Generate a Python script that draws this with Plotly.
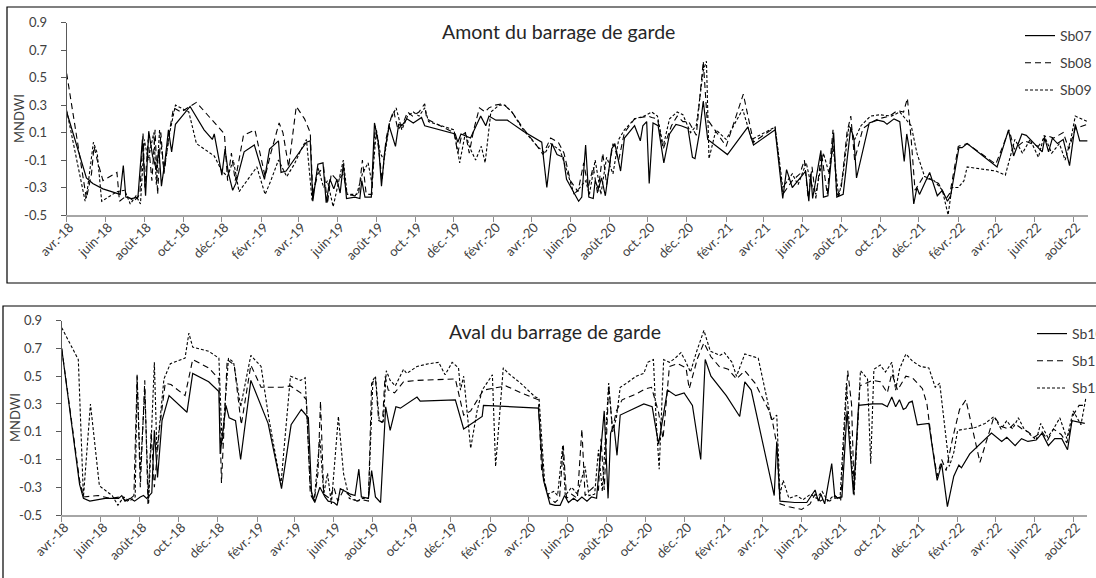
import plotly.graph_objects as go

# ---------------- axis ticks ----------------
tick_dates = ["2018-04-01", "2018-06-01", "2018-08-01", "2018-10-01", "2018-12-01",
              "2019-02-01", "2019-04-01", "2019-06-01", "2019-08-01", "2019-10-01", "2019-12-01",
              "2020-02-01", "2020-04-01", "2020-06-01", "2020-08-01", "2020-10-01", "2020-12-01",
              "2021-02-01", "2021-04-01", "2021-06-01", "2021-08-01", "2021-10-01", "2021-12-01",
              "2022-02-01", "2022-04-01", "2022-06-01", "2022-08-01"]
tick_labels = ["avr.-18", "juin-18", "août-18", "oct.-18", "déc.-18",
               "févr.-19", "avr.-19", "juin-19", "août-19", "oct.-19", "déc.-19",
               "févr.-20", "avr.-20", "juin-20", "août-20", "oct.-20", "déc.-20",
               "févr.-21", "avr.-21", "juin-21", "août-21", "oct.-21", "déc.-21",
               "févr.-22", "avr.-22", "juin-22", "août-22"]
y_ticks = [-0.5, -0.3, -0.1, 0.1, 0.3, 0.5, 0.7, 0.9]
y_labels = ["-0.5", "-0.3", "-0.1", "0.1", "0.3", "0.5", "0.7", "0.9"]

# ---------------- Amont (top) ----------------
sb07_dates = ["2018-04-01", "2018-05-02", "2018-05-12", "2018-05-28", "2018-06-24", "2018-06-29", "2018-07-03",
              "2018-07-12", "2018-07-22", "2018-07-29", "2018-08-03", "2018-08-08", "2018-08-14", "2018-08-20",
              "2018-08-24", "2018-08-28", "2018-09-03", "2018-09-08", "2018-09-13", "2018-09-19", "2018-10-12",
              "2018-11-03", "2018-11-16", "2018-11-19", "2018-12-01", "2018-12-06", "2018-12-11", "2018-12-18",
              "2018-12-23", "2019-01-05", "2019-01-21", "2019-02-06", "2019-02-14", "2019-02-28", "2019-03-04",
              "2019-03-12", "2019-04-13", "2019-04-19", "2019-04-23", "2019-05-01", "2019-05-09", "2019-05-14",
              "2019-05-20", "2019-05-26", "2019-05-31", "2019-06-05", "2019-06-10", "2019-06-15", "2019-06-28",
              "2019-07-06", "2019-07-09", "2019-07-14", "2019-07-24", "2019-07-29", "2019-08-04", "2019-08-09",
              "2019-08-14", "2019-08-21", "2019-08-31", "2019-09-05", "2019-09-10", "2019-09-18", "2019-09-28",
              "2019-10-11", "2019-10-16", "2019-12-03", "2019-12-07", "2019-12-12", "2019-12-27", "2020-01-12",
              "2020-01-20", "2020-01-25", "2020-02-05", "2020-02-23", "2020-03-19", "2020-04-17", "2020-04-25",
              "2020-05-03", "2020-05-11", "2020-05-21", "2020-05-26", "2020-06-04", "2020-06-14", "2020-06-19",
              "2020-06-25", "2020-06-30", "2020-07-07", "2020-07-10", "2020-07-15", "2020-07-20", "2020-07-26",
              "2020-08-05", "2020-08-10", "2020-08-19", "2020-08-25", "2020-09-10", "2020-09-19", "2020-09-23",
              "2020-09-29", "2020-10-03", "2020-10-09", "2020-10-17", "2020-10-26", "2020-11-04", "2020-11-14",
              "2020-11-22", "2020-12-03", "2020-12-10", "2020-12-14", "2020-12-21", "2020-12-27", "2021-01-03",
              "2021-02-03", "2021-03-07", "2021-03-16", "2021-04-19", "2021-05-01", "2021-05-07", "2021-05-16",
              "2021-06-06", "2021-06-11", "2021-06-14", "2021-06-17", "2021-06-30", "2021-07-04", "2021-07-11",
              "2021-07-20", "2021-07-25", "2021-08-04", "2021-08-16", "2021-08-21", "2021-08-25", "2021-09-14",
              "2021-09-27", "2021-10-07", "2021-10-12", "2021-10-23", "2021-11-01", "2021-11-08", "2021-11-12",
              "2021-11-16", "2021-11-23", "2021-11-28", "2021-12-02", "2021-12-18", "2021-12-30", "2022-01-07",
              "2022-01-15", "2022-01-20", "2022-02-02", "2022-02-07", "2022-02-15", "2022-04-03", "2022-04-21",
              "2022-04-29", "2022-05-12", "2022-05-19", "2022-06-13", "2022-06-17", "2022-06-23", "2022-06-29",
              "2022-07-07", "2022-07-16", "2022-07-26", "2022-08-04", "2022-08-11", "2022-08-23"]
sb07 = [0.25, -0.23, -0.27, -0.31, -0.35, -0.14, -0.37,
        -0.38, -0.37, 0.05, -0.36, 0.11, -0.07, -0.17,
        -0.02, -0.29, -0.09, 0.12, -0.04, 0.16, 0.29,
        0.12, 0.05, 0.09, -0.21, -0.02, -0.19, -0.32,
        -0.27, -0.04, 0.01, -0.24, -0.02, 0.04, -0.19,
        -0.18, 0.03, 0.04, -0.40, -0.13, -0.12, -0.41,
        -0.24, -0.31, -0.24, -0.34, -0.13, -0.38, -0.37,
        -0.38, -0.25, -0.37, -0.37, 0.17, 0.03, -0.29,
        -0.04, 0.15, 0.00, 0.16, 0.15, 0.20, 0.17,
        0.21, 0.15, 0.09, 0.03, 0.09, 0.06, 0.22,
        0.15, 0.22, 0.19, 0.19, 0.11, 0.03, -0.30,
        0.02, -0.06, -0.08, -0.24, -0.32, -0.40, -0.37,
        0.01, -0.37, -0.38, -0.25, -0.31, -0.23, -0.36,
        -0.02, 0.02, -0.18, 0.06, 0.15, 0.04, 0.15,
        0.18, -0.27, 0.17, 0.15, -0.12, 0.09, 0.16,
        0.15, 0.13, -0.08, -0.09, 0.10, 0.33, 0.05,
        -0.06, 0.14, 0.01, 0.12, -0.38, -0.17, -0.30,
        -0.18, -0.40, -0.20, -0.38, -0.03, -0.37, -0.36,
        0.10, -0.37, -0.35, 0.14, 0.05, -0.23, 0.17,
        0.19, 0.18, 0.16, 0.20, 0.18, -0.11, 0.09,
        -0.02, -0.42, -0.30, -0.35, -0.19, -0.36, -0.32,
        -0.40, -0.36, -0.01, -0.01, 0.02, -0.15, 0.12,
        -0.07, 0.09, 0.08, -0.04, 0.06, -0.04, 0.06,
        0.02, 0.05, -0.14, 0.16, 0.04, 0.04]

sb08_dates = ["2018-04-01", "2018-05-02", "2018-05-10", "2018-05-14", "2018-05-19", "2018-05-28", "2018-06-19",
              "2018-06-23", "2018-07-04", "2018-07-16", "2018-07-25", "2018-07-30", "2018-08-02", "2018-08-07",
              "2018-08-13", "2018-08-18", "2018-08-22", "2018-08-27", "2018-09-01", "2018-09-10", "2018-09-16",
              "2018-09-28", "2018-10-22", "2018-12-05", "2018-12-10", "2018-12-16", "2018-12-22", "2019-01-04",
              "2019-01-22", "2019-02-07", "2019-02-16", "2019-03-01", "2019-03-07", "2019-03-16", "2019-03-28",
              "2019-04-10", "2019-04-19", "2019-04-23", "2019-05-01", "2019-05-10", "2019-05-16", "2019-05-22",
              "2019-06-01", "2019-06-10", "2019-06-16", "2019-06-28", "2019-07-04", "2019-07-10", "2019-07-16",
              "2019-07-25", "2019-07-30", "2019-08-04", "2019-08-10", "2019-08-16", "2019-08-22", "2019-08-28",
              "2019-09-04", "2019-09-13", "2019-09-19", "2019-09-27", "2019-10-07", "2019-10-16", "2019-10-19",
              "2019-12-01", "2019-12-07", "2019-12-13", "2019-12-19", "2019-12-25", "2020-01-01", "2020-01-10",
              "2020-01-19", "2020-01-25", "2020-02-04", "2020-02-16", "2020-03-01", "2020-03-19", "2020-04-10",
              "2020-04-19", "2020-05-01", "2020-05-13", "2020-05-22", "2020-06-01", "2020-06-13", "2020-06-22",
              "2020-06-29", "2020-07-07", "2020-07-14", "2020-07-22", "2020-07-28", "2020-08-07", "2020-08-16",
              "2020-08-25", "2020-09-10", "2020-09-22", "2020-10-01", "2020-10-07", "2020-10-16", "2020-10-25",
              "2020-11-07", "2020-11-16", "2020-11-25", "2020-12-04", "2020-12-16", "2020-12-27", "2021-01-02",
              "2021-02-01", "2021-02-28", "2021-03-16", "2021-04-19", "2021-05-01", "2021-05-16", "2021-05-28",
              "2021-06-04", "2021-06-10", "2021-06-16", "2021-06-22", "2021-07-01", "2021-07-10", "2021-07-19",
              "2021-07-25", "2021-08-01", "2021-08-10", "2021-08-16", "2021-08-22", "2021-09-04", "2021-09-16",
              "2021-09-28", "2021-10-16", "2021-10-28", "2021-11-07", "2021-11-13", "2021-11-19", "2021-11-25",
              "2021-12-07", "2021-12-19", "2022-01-01", "2022-01-13", "2022-01-19", "2022-02-01", "2022-02-15",
              "2022-04-01", "2022-04-22", "2022-04-30", "2022-05-16", "2022-06-07", "2022-06-19", "2022-07-01",
              "2022-07-16", "2022-07-25", "2022-08-04", "2022-08-23"]
sb08 = [0.53, -0.38, -0.20, 0.00, -0.10, -0.25, -0.19,
        -0.40, -0.36, -0.40, -0.35, 0.10, -0.30, 0.05,
        -0.25, 0.12, -0.35, 0.10, -0.20, 0.12, 0.28,
        0.25, 0.32, 0.09, -0.25, -0.05, -0.25, 0.08,
        0.12, -0.22, -0.05, 0.17, 0.10, -0.15, 0.29,
        0.20, 0.10, -0.35, -0.20, -0.15, -0.42, -0.20,
        -0.25, -0.20, -0.35, -0.36, -0.35, -0.10, -0.35,
        -0.35, 0.15, 0.00, -0.25, 0.05, 0.18, 0.26,
        0.12, 0.18, 0.25, 0.22, 0.25, 0.31, 0.20,
        0.10, -0.05, 0.08, 0.10, -0.05, 0.12, 0.28,
        0.25, 0.28, 0.30, 0.31, 0.25, 0.13, 0.00,
        -0.06, 0.06, 0.03, -0.05, -0.25, -0.33, -0.12,
        -0.30, -0.15, -0.35, -0.05, -0.28, 0.02, -0.10,
        0.10, 0.20, 0.21, 0.22, 0.21, 0.20, -0.02,
        0.15, 0.22, 0.18, 0.18, 0.08, 0.62, 0.20,
        0.00, 0.38, 0.03, 0.14, -0.35, -0.25, -0.20,
        -0.10, -0.38, -0.15, -0.38, -0.05, -0.35, 0.12,
        -0.36, -0.30, 0.10, 0.22, -0.10, 0.13, 0.17,
        0.20, 0.22, 0.26, 0.25, 0.35, 0.05, -0.32,
        -0.23, -0.24, -0.27, -0.38, -0.34, 0.00, 0.02,
        -0.13, 0.12, -0.02, 0.04, 0.00, 0.08, 0.06,
        0.10, -0.02, 0.13, 0.16]

sb09_dates = ["2018-04-01", "2018-04-30", "2018-05-04", "2018-05-13", "2018-05-19", "2018-05-26", "2018-06-19",
              "2018-07-01", "2018-07-10", "2018-07-19", "2018-07-26", "2018-08-01", "2018-08-07", "2018-08-16",
              "2018-08-20", "2018-08-25", "2018-09-01", "2018-09-10", "2018-09-19", "2018-10-10", "2018-10-22",
              "2018-11-19", "2018-12-01", "2018-12-10", "2018-12-19", "2018-12-28", "2019-01-25", "2019-02-07",
              "2019-02-16", "2019-02-28", "2019-03-13", "2019-03-25", "2019-04-04", "2019-04-13", "2019-04-22",
              "2019-05-01", "2019-05-10", "2019-05-16", "2019-05-25", "2019-06-01", "2019-06-10", "2019-06-16",
              "2019-07-01", "2019-07-10", "2019-07-19", "2019-07-25", "2019-08-01", "2019-08-07", "2019-08-13",
              "2019-08-22", "2019-09-01", "2019-09-10", "2019-09-19", "2019-09-28", "2019-10-07", "2019-10-16",
              "2019-10-22", "2019-12-01", "2019-12-10", "2019-12-19", "2019-12-25", "2020-01-04", "2020-01-13",
              "2020-01-19", "2020-01-28", "2020-02-10", "2020-02-19", "2020-03-01", "2020-03-19", "2020-04-10",
              "2020-04-22", "2020-05-01", "2020-05-16", "2020-05-28", "2020-06-07", "2020-06-16", "2020-06-25",
              "2020-07-01", "2020-07-10", "2020-07-19", "2020-07-28", "2020-08-07", "2020-08-16", "2020-08-25",
              "2020-09-10", "2020-09-25", "2020-10-07", "2020-10-16", "2020-10-25", "2020-11-04", "2020-11-16",
              "2020-11-25", "2020-12-07", "2020-12-16", "2020-12-27", "2021-01-01", "2021-01-05", "2021-01-16",
              "2021-02-01", "2021-02-27", "2021-03-13", "2021-04-19", "2021-05-01", "2021-05-16", "2021-05-25",
              "2021-06-07", "2021-06-13", "2021-06-22", "2021-07-04", "2021-07-13", "2021-07-19", "2021-07-28",
              "2021-08-04", "2021-08-13", "2021-08-22", "2021-09-01", "2021-09-16", "2021-10-01", "2021-10-19",
              "2021-11-01", "2021-11-10", "2021-11-19", "2021-11-28", "2021-12-10", "2021-12-25", "2022-01-07",
              "2022-01-16", "2022-01-22", "2022-02-01", "2022-02-10", "2022-02-15", "2022-04-01", "2022-04-16",
              "2022-04-25", "2022-05-01", "2022-05-13", "2022-05-25", "2022-06-07", "2022-06-16", "2022-06-28",
              "2022-07-10", "2022-07-19", "2022-07-28", "2022-08-04", "2022-08-23"]
sb09 = [0.26, -0.40, -0.30, 0.03, -0.05, -0.40, -0.33,
        -0.32, -0.42, -0.36, -0.42, 0.05, -0.10, 0.10,
        -0.28, 0.12, -0.18, 0.10, 0.30, 0.25, 0.02,
        -0.07, -0.18, -0.22, -0.10, -0.33, -0.15, -0.35,
        -0.25, -0.10, -0.22, -0.13, -0.03, 0.05, -0.40,
        -0.15, -0.30, -0.25, -0.44, -0.30, -0.10, -0.35,
        -0.35, -0.20, -0.12, -0.27, 0.12, -0.05, -0.10,
        0.18, 0.28, 0.12, 0.22, 0.25, 0.22, 0.28,
        0.18, 0.12, -0.12, 0.10, 0.00, -0.10, 0.00,
        -0.12, 0.25, 0.30, 0.30, 0.25, 0.12, 0.00,
        -0.05, 0.02, -0.03, -0.20, -0.35, -0.30, -0.25,
        -0.35, -0.10, -0.35, -0.08, -0.20, 0.05, 0.12,
        0.20, 0.22, 0.25, 0.22, 0.00, 0.20, 0.25,
        0.23, 0.10, 0.15, 0.55, 0.62, -0.09, 0.12,
        0.05, 0.27, 0.05, 0.14, -0.30, -0.20, -0.28,
        -0.12, -0.25, -0.35, -0.05, -0.20, 0.00, -0.37,
        -0.20, 0.15, 0.05, 0.15, 0.22, 0.23, 0.22,
        0.25, 0.20, 0.15, -0.05, -0.22, -0.25, -0.32,
        -0.50, -0.30, -0.30, -0.25, -0.15, -0.18, -0.21,
        -0.05, 0.05, -0.05, 0.05, -0.08, 0.08, -0.05,
        0.02, -0.10, 0.05, 0.22, 0.18]

# ---------------- Aval (bottom) ----------------
sb10_dates = ["2018-04-01", "2018-04-29", "2018-05-05", "2018-05-15", "2018-06-08", "2018-06-29", "2018-07-04",
              "2018-07-09", "2018-07-17", "2018-07-24", "2018-08-02", "2018-08-07", "2018-08-12", "2018-08-20",
              "2018-08-24", "2018-08-29", "2018-09-05", "2018-09-16", "2018-10-14", "2018-10-23", "2018-11-17",
              "2018-12-03", "2018-12-05", "2018-12-14", "2018-12-19", "2018-12-29", "2019-01-06", "2019-01-22",
              "2019-02-18", "2019-03-11", "2019-03-26", "2019-04-11", "2019-04-22", "2019-04-27", "2019-05-02",
              "2019-05-10", "2019-05-18", "2019-05-23", "2019-06-01", "2019-06-06", "2019-06-11", "2019-06-27",
              "2019-07-04", "2019-07-10", "2019-07-14", "2019-07-25", "2019-07-30", "2019-08-05", "2019-08-13",
              "2019-08-21", "2019-08-28", "2019-09-06", "2019-09-13", "2019-09-23", "2019-10-09", "2019-10-14",
              "2019-12-08", "2019-12-21", "2020-01-19", "2020-01-21", "2020-04-16", "2020-04-24", "2020-05-04",
              "2020-05-12", "2020-05-20", "2020-05-27", "2020-06-02", "2020-06-10", "2020-06-16", "2020-06-23",
              "2020-07-01", "2020-07-08", "2020-07-16", "2020-07-28", "2020-08-03", "2020-08-07", "2020-08-12",
              "2020-08-17", "2020-08-22", "2020-09-28", "2020-10-11", "2020-10-21", "2020-11-04", "2020-11-17",
              "2020-11-30", "2020-12-13", "2020-12-26", "2021-01-02", "2021-01-11", "2021-02-04", "2021-02-25",
              "2021-03-05", "2021-03-15", "2021-04-20", "2021-04-24", "2021-04-29", "2021-05-22", "2021-06-10",
              "2021-06-23", "2021-06-28", "2021-07-02", "2021-07-08", "2021-07-19", "2021-07-24", "2021-08-04",
              "2021-08-12", "2021-08-22", "2021-08-30", "2021-09-21", "2021-10-06", "2021-10-14", "2021-10-21",
              "2021-10-27", "2021-11-02", "2021-11-08", "2021-11-12", "2021-11-17", "2021-11-22", "2021-11-30",
              "2021-12-18", "2021-12-31", "2022-01-07", "2022-01-16", "2022-01-26", "2022-02-03", "2022-02-07",
              "2022-02-20", "2022-03-26", "2022-04-11", "2022-04-19", "2022-05-02", "2022-05-12", "2022-05-22",
              "2022-06-04", "2022-06-13", "2022-06-23", "2022-07-03", "2022-07-14", "2022-07-23", "2022-07-30",
              "2022-08-19"]
sb10 = [0.70, -0.28, -0.38, -0.40, -0.38, -0.38, -0.36,
        -0.40, -0.38, -0.40, -0.37, -0.36, -0.38, -0.34,
        0.11, -0.23, 0.18, 0.36, 0.24, 0.52, 0.46,
        0.39, -0.06, 0.29, 0.20, 0.18, -0.10, 0.47,
        0.16, -0.31, 0.15, 0.26, 0.20, -0.34, -0.41,
        -0.30, -0.37, -0.40, -0.41, -0.43, -0.31, -0.35,
        -0.36, -0.17, -0.37, -0.38, -0.18, -0.37, -0.41,
        0.28, 0.11, 0.28, 0.27, 0.30, 0.35, 0.32,
        0.33, 0.12, 0.21, 0.29, 0.27, -0.25, -0.42,
        -0.43, -0.43, -0.36, -0.41, -0.38, -0.40, -0.37,
        -0.40, -0.37, -0.38, 0.25, -0.38, 0.09, 0.15,
        -0.07, 0.22, 0.30, 0.28, 0.01, 0.40, 0.36,
        0.38, 0.29, -0.10, 0.62, 0.50, 0.36, 0.21,
        0.46, 0.40, -0.36, 0.03, -0.40, -0.41, -0.41,
        -0.32, -0.40, -0.35, -0.42, -0.13, -0.38, -0.37,
        0.25, -0.35, 0.29, 0.30, 0.30, 0.28, 0.35,
        0.28, 0.33, 0.26, 0.27, 0.31, 0.32, 0.15,
        0.16, -0.25, -0.13, -0.44, -0.22, -0.14, -0.16,
        -0.06, 0.09, 0.03, 0.06, 0.00, 0.05, 0.03,
        0.04, 0.09, 0.00, 0.05, 0.05, -0.03, 0.18,
        0.16]

sb11_dates = ["2018-04-01", "2018-04-29", "2018-05-05", "2018-05-28", "2018-06-16", "2018-07-01", "2018-07-13",
              "2018-07-23", "2018-07-28", "2018-08-02", "2018-08-09", "2018-08-14", "2018-08-19", "2018-08-24",
              "2018-09-01", "2018-09-10", "2018-09-19", "2018-10-11", "2018-10-23", "2018-11-17", "2018-12-03",
              "2018-12-07", "2018-12-16", "2018-12-27", "2019-01-07", "2019-01-22", "2019-02-07", "2019-03-12",
              "2019-03-25", "2019-04-10", "2019-04-19", "2019-04-25", "2019-05-01", "2019-05-07", "2019-05-11",
              "2019-05-16", "2019-05-25", "2019-06-01", "2019-06-07", "2019-06-16", "2019-06-28", "2019-07-07",
              "2019-07-16", "2019-07-25", "2019-07-30", "2019-08-05", "2019-08-10", "2019-08-16", "2019-08-20",
              "2019-08-25", "2019-09-04", "2019-09-18", "2019-10-09", "2019-12-08", "2019-12-21", "2020-01-01",
              "2020-01-21", "2020-02-25", "2020-03-20", "2020-04-16", "2020-04-21", "2020-05-02", "2020-05-12",
              "2020-05-19", "2020-05-25", "2020-05-30", "2020-06-07", "2020-06-16", "2020-06-23", "2020-06-28",
              "2020-07-04", "2020-07-11", "2020-07-19", "2020-07-23", "2020-07-28", "2020-08-04", "2020-08-10",
              "2020-08-16", "2020-08-25", "2020-09-15", "2020-10-01", "2020-10-10", "2020-10-21", "2020-10-28",
              "2020-11-07", "2020-11-20", "2020-12-03", "2020-12-08", "2020-12-21", "2020-12-31", "2021-01-11",
              "2021-01-24", "2021-02-07", "2021-02-20", "2021-03-05", "2021-03-21", "2021-04-11", "2021-04-17",
              "2021-04-24", "2021-04-29", "2021-05-13", "2021-06-02", "2021-06-15", "2021-06-23", "2021-07-01",
              "2021-07-08", "2021-07-16", "2021-07-24", "2021-08-02", "2021-08-13", "2021-08-19", "2021-08-23",
              "2021-09-01", "2021-09-21", "2021-10-03", "2021-10-14", "2021-10-21", "2021-10-30", "2021-11-12",
              "2021-11-22", "2021-12-08", "2021-12-15", "2021-12-23", "2021-12-31", "2022-01-07", "2022-01-14",
              "2022-01-24", "2022-02-04", "2022-02-14", "2022-03-08", "2022-03-30", "2022-04-10", "2022-04-22",
              "2022-05-01", "2022-05-13", "2022-05-22", "2022-06-01", "2022-06-13", "2022-06-22", "2022-07-01",
              "2022-07-13", "2022-07-22", "2022-08-01", "2022-08-10", "2022-08-21"]
sb11 = [0.70, -0.25, -0.37, -0.36, -0.38, -0.37, -0.40,
        -0.36, 0.50, -0.30, 0.47, -0.42, 0.10, -0.30,
        0.12, 0.45, 0.44, 0.36, 0.62, 0.56, 0.48,
        -0.27, 0.62, 0.58, 0.15, 0.58, 0.42, 0.42,
        0.43, 0.38, 0.33, -0.35, -0.40, -0.20, 0.32,
        -0.35, -0.38, -0.30, -0.40, -0.32, -0.37, -0.40,
        -0.39, -0.40, 0.45, 0.48, 0.18, 0.17, 0.50,
        0.40, 0.38, 0.46, 0.47, 0.48, 0.22, 0.25,
        0.40, 0.43, 0.38, 0.33, -0.18, -0.37, -0.41,
        -0.38, 0.00, -0.38, -0.35, -0.38, 0.12, -0.36,
        -0.33, -0.30, -0.32, 0.05, -0.32, 0.43, 0.12,
        0.25, 0.33, 0.37, 0.41, 0.42, 0.24, 0.05,
        0.57, 0.59, 0.56, 0.41, 0.63, 0.74, 0.64,
        0.57, 0.55, 0.48, 0.54, 0.45, 0.26, 0.18,
        0.01, -0.42, -0.44, -0.46, -0.42, -0.35, -0.40,
        -0.38, -0.40, -0.36, -0.40, 0.54, 0.30, -0.32,
        0.43, 0.47, 0.46, 0.38, 0.52, 0.40, 0.50,
        0.49, 0.41, 0.30, 0.01, -0.22, -0.10, -0.18,
        0.05, 0.26, 0.33, -0.12, 0.21, 0.14, 0.12,
        0.16, 0.12, 0.10, 0.06, 0.10, 0.04, 0.12,
        0.08, 0.02, 0.22, 0.29, 0.29]

sb12_dates = ["2018-04-01", "2018-04-27", "2018-05-05", "2018-05-16", "2018-05-30", "2018-06-19", "2018-06-28",
              "2018-07-07", "2018-07-16", "2018-07-25", "2018-07-28", "2018-08-02", "2018-08-09", "2018-08-15",
              "2018-08-24", "2018-08-28", "2018-09-08", "2018-09-18", "2018-10-11", "2018-10-17", "2018-10-23",
              "2018-11-17", "2018-12-03", "2018-12-08", "2018-12-18", "2018-12-26", "2019-01-06", "2019-01-22",
              "2019-02-07", "2019-02-19", "2019-03-10", "2019-03-25", "2019-04-10", "2019-04-17", "2019-04-25",
              "2019-05-01", "2019-05-10", "2019-05-16", "2019-05-22", "2019-05-28", "2019-06-08", "2019-06-16",
              "2019-06-25", "2019-07-07", "2019-07-16", "2019-07-25", "2019-08-01", "2019-08-05", "2019-08-11",
              "2019-08-17", "2019-08-22", "2019-08-28", "2019-09-05", "2019-09-18", "2019-09-23", "2019-10-09",
              "2019-10-27", "2019-11-12", "2019-11-22", "2019-12-03", "2019-12-13", "2019-12-16", "2019-12-21",
              "2020-01-01", "2020-01-11", "2020-01-19", "2020-02-04", "2020-02-09", "2020-02-21", "2020-02-29",
              "2020-03-19", "2020-04-11", "2020-04-17", "2020-04-26", "2020-05-01", "2020-05-10", "2020-05-16",
              "2020-05-24", "2020-05-28", "2020-06-07", "2020-06-16", "2020-06-28", "2020-07-04", "2020-07-13",
              "2020-07-19", "2020-07-25", "2020-08-04", "2020-08-10", "2020-08-16", "2020-08-22", "2020-09-01",
              "2020-09-16", "2020-09-28", "2020-10-04", "2020-10-13", "2020-10-17", "2020-10-22", "2020-10-29",
              "2020-11-07", "2020-11-16", "2020-11-25", "2020-12-01", "2020-12-10", "2020-12-19", "2020-12-31",
              "2021-01-10", "2021-01-25", "2021-02-01", "2021-02-13", "2021-02-20", "2021-03-05", "2021-03-26",
              "2021-04-16", "2021-04-24", "2021-04-29", "2021-05-04", "2021-05-13", "2021-05-25", "2021-06-04",
              "2021-06-16", "2021-06-25", "2021-07-04", "2021-07-13", "2021-07-22", "2021-08-01", "2021-08-11",
              "2021-08-19", "2021-08-23", "2021-09-02", "2021-09-13", "2021-09-18", "2021-09-23", "2021-10-03",
              "2021-10-11", "2021-10-21", "2021-10-27", "2021-11-02", "2021-11-12", "2021-11-22", "2021-12-05",
              "2021-12-18", "2021-12-28", "2022-01-04", "2022-01-19", "2022-01-26", "2022-02-01", "2022-02-14",
              "2022-03-01", "2022-03-16", "2022-03-30", "2022-04-10", "2022-04-19", "2022-04-28", "2022-05-07",
              "2022-05-16", "2022-05-25", "2022-06-04", "2022-06-11", "2022-06-22", "2022-07-01", "2022-07-11",
              "2022-07-22", "2022-08-01", "2022-08-13", "2022-08-21"]
sb12 = [0.85, 0.62, -0.37, 0.30, -0.29, -0.36, -0.43,
        -0.37, -0.40, -0.37, 0.51, -0.20, 0.40, -0.42,
        0.60, -0.05, 0.48, 0.59, 0.63, 0.81, 0.71,
        0.68, 0.63, 0.01, 0.63, 0.60, 0.28, 0.65,
        0.57, 0.20, -0.28, 0.50, 0.47, 0.49, -0.30,
        -0.40, 0.05, -0.35, -0.20, -0.42, 0.21, -0.20,
        -0.38, -0.40, -0.38, -0.38, 0.47, 0.50, 0.18,
        0.16, 0.54, 0.47, 0.43, 0.55, 0.52, 0.57,
        0.59, 0.60, 0.51, 0.60, 0.56, 0.40, 0.50,
        -0.02, 0.25, 0.40, 0.51, -0.15, 0.56, 0.52,
        0.45, 0.35, 0.34, -0.28, -0.35, -0.33, -0.36,
        0.00, -0.36, -0.30, -0.35, -0.15, -0.36, -0.35,
        -0.03, -0.33, 0.45, 0.10, 0.20, 0.42, 0.45,
        0.50, 0.52, 0.60, 0.62, 0.20, -0.17, 0.62,
        0.60, 0.63, 0.67, 0.62, 0.53, 0.67, 0.83,
        0.68, 0.65, 0.67, 0.60, 0.50, 0.66, 0.63,
        0.18, 0.22, -0.35, -0.25, -0.38, -0.36, -0.39,
        -0.35, -0.38, -0.33, -0.40, -0.36, -0.38, 0.45,
        -0.10, -0.36, 0.54, 0.48, -0.13, 0.55, 0.58,
        0.53, 0.60, 0.40, 0.55, 0.66, 0.61, 0.57,
        0.56, 0.42, 0.45, -0.15, -0.05, 0.11, 0.12,
        0.13, 0.16, 0.21, 0.12, 0.18, 0.12, 0.20,
        0.12, 0.08, 0.04, 0.16, 0.06, 0.12, 0.20,
        0.05, 0.25, 0.15, 0.35]

# ---------------- figure ----------------
W, H = 1096, 578
FONT = "Lato, Carlito, 'Open Sans', sans-serif"
TXT = "#404040"

fig = go.Figure()

styles = {"solid": dict(color="black", width=1.2, dash="solid"),
          "dash": dict(color="black", width=1.1, dash="6px,4px"),
          "dot": dict(color="black", width=1.1, dash="3px,2px")}

top_series = [("Sb07", sb07_dates, sb07, "solid"),
              ("Sb08", sb08_dates, sb08, "dash"),
              ("Sb09", sb09_dates, sb09, "dot")]
bot_series = [("Sb10", sb10_dates, sb10, "solid"),
              ("Sb11", sb11_dates, sb11, "dash"),
              ("Sb12", sb12_dates, sb12, "dot")]

for name, d, v, st in top_series:
    fig.add_trace(go.Scatter(x=d, y=v, mode="lines", name=name, line=styles[st],
                             xaxis="x", yaxis="y", legend="legend", legendgroup=name))
for name, d, v, st in bot_series:
    fig.add_trace(go.Scatter(x=d, y=v, mode="lines", name=name, line=styles[st],
                             xaxis="x2", yaxis="y2", legend="legend2", legendgroup=name))

def px_x(p):
    return p / W

def px_y(p):
    return 1 - p / H

xcommon = dict(type="date", tickmode="array", tickvals=tick_dates, ticktext=tick_labels,
               tickangle=-45, ticks="outside", ticklen=5, tickcolor="#8c8c8c", tickwidth=1,
               showline=True, linecolor="#a6a6a6", linewidth=1.5, showgrid=False, zeroline=False,
               ticklabelstandoff=-7, ticklabelshift=3,
               tickfont=dict(family=FONT, size=13, color=TXT))
ycommon = dict(range=[-0.5, 0.9], tickmode="array", tickvals=y_ticks, ticktext=y_labels,
               ticks="outside", ticklen=5, tickcolor="#595959", tickwidth=1,
               showline=True, linecolor="#595959", linewidth=1, showgrid=False, zeroline=False,
               tickfont=dict(family=FONT, size=13, color=TXT), ticklabelstandoff=11)

ytitle = dict(text="MNDWI", xref="paper", yref="paper", textangle=-90, showarrow=False,
              xanchor="center", yanchor="middle", font=dict(family=FONT, size=13, color=TXT))

fig.update_layout(
    width=W, height=H,
    margin=dict(l=0, r=0, t=0, b=0, autoexpand=False),
    paper_bgcolor="white", plot_bgcolor="white",
    showlegend=True,
    xaxis=dict(domain=[px_x(66.7), px_x(1088)], anchor="y",
               range=["2018-04-01", "2022-08-24"], **xcommon),
    yaxis=dict(domain=[px_y(215), px_y(22.7)], anchor="x", **ycommon),
    xaxis2=dict(domain=[px_x(61.7), px_x(1086.7)], anchor="y2",
                range=["2018-04-01", "2022-08-22"], **xcommon),
    yaxis2=dict(domain=[px_y(515), px_y(320.7)], anchor="x2", **ycommon),
    legend=dict(x=px_x(1020), y=px_y(20), xanchor="left", yanchor="top",
                bgcolor="rgba(0,0,0,0)", borderwidth=0, tracegroupgap=6,
                font=dict(family=FONT, size=14, color=TXT)),
    legend2=dict(x=px_x(1032), y=px_y(318), xanchor="left", yanchor="top",
                 bgcolor="rgba(0,0,0,0)", borderwidth=0, tracegroupgap=6,
                 font=dict(family=FONT, size=14, color=TXT)),
    annotations=[
        dict(text="Amont du barrage de garde", xref="paper", yref="paper",
             x=px_x(558), y=px_y(31), xanchor="center", yanchor="middle", showarrow=False,
             font=dict(family=FONT, size=19.5, color="#262626")),
        dict(text="Aval du barrage de garde", xref="paper", yref="paper",
             x=px_x(555), y=px_y(331), xanchor="center", yanchor="middle", showarrow=False,
             font=dict(family=FONT, size=19.5, color="#262626")),
        dict(ytitle, x=px_x(19), y=px_y(119)),
        dict(ytitle, x=px_x(15), y=px_y(418)),
    ],
    shapes=[
        dict(type="rect", xref="paper", yref="paper", x0=px_x(7), x1=px_x(1105),
             y0=px_y(283), y1=px_y(7), line=dict(color="black", width=1.2), fillcolor="rgba(0,0,0,0)", layer="below"),
        dict(type="rect", xref="paper", yref="paper", x0=px_x(3), x1=px_x(1105),
             y0=px_y(590), y1=px_y(306), line=dict(color="black", width=1.2), fillcolor="rgba(0,0,0,0)", layer="below"),
    ],
)

fig.write_html("out.html")
